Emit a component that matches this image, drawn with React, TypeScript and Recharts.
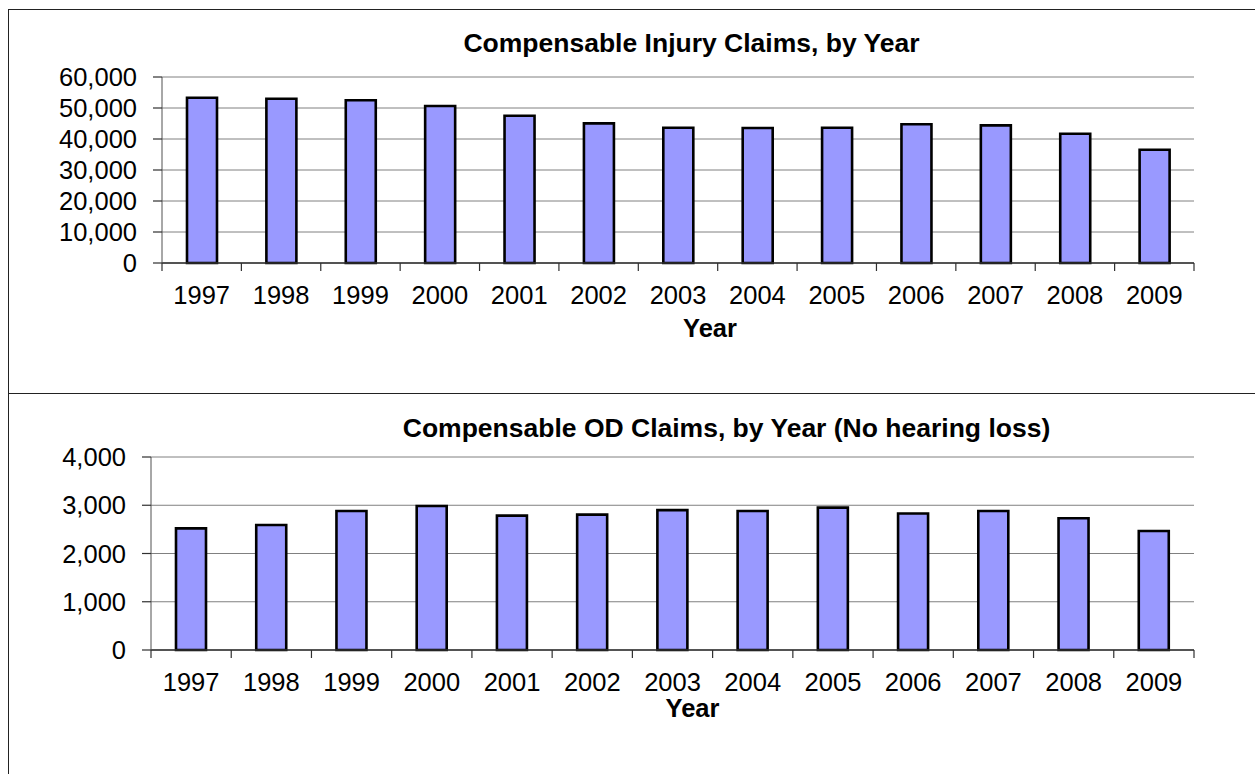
import React from "react";
import { BarChart, Bar, XAxis, YAxis, CartesianGrid } from "recharts";

const years = ["1997", "1998", "1999", "2000", "2001", "2002", "2003", "2004", "2005", "2006", "2007", "2008", "2009"];
const injuryClaims = [53300, 53000, 52500, 50650, 47500, 45050, 43650, 43550, 43650, 44750, 44400, 41700, 36550];
const odClaims = [2520, 2590, 2880, 2985, 2785, 2805, 2900, 2880, 2950, 2830, 2880, 2730, 2465];
const injuryTicks = [0, 10000, 20000, 30000, 40000, 50000, 60000];
const odTicks = [0, 1000, 2000, 3000, 4000];

const injuryData = years.map((y, i) => ({ year: y, value: injuryClaims[i] }));
const odData = years.map((y, i) => ({ year: y, value: odClaims[i] }));

const FONT = "'Liberation Sans', Arial, sans-serif";
const tickStyle = { fontFamily: FONT, fontSize: 25.5, fill: "#000" };
const fmt = (v: number) => v.toLocaleString("en-US");

const X_TICK_SIZE = 8;
const X_TICK_MARGIN = 15;

function CategoryTick(props: any) {
  const { x, y, payload, index } = props;
  const off = payload && typeof payload.offset === "number" ? payload.offset : 0;
  const axisY = y - X_TICK_SIZE - X_TICK_MARGIN;
  const last = index === years.length - 1;
  return (
    <g>
      <line x1={x - off} x2={x - off} y1={axisY} y2={axisY + X_TICK_SIZE} stroke="#303030" strokeWidth={1.2} />
      {last && (
        <line x1={x + off} x2={x + off} y1={axisY} y2={axisY + X_TICK_SIZE} stroke="#303030" strokeWidth={1.2} />
      )}
      <text x={x} y={y} dy="0.71em" textAnchor="middle" fontFamily={FONT} fontSize={25.5} fill="#000">
        {payload.value}
      </text>
    </g>
  );
}

function Panel(props: {
  data: { year: string; value: number }[];
  ticks: number[];
  height: number;
  yWidth: number;
  top: number;
  bottom: number;
  right: number;
}) {
  const { data, ticks, height, yWidth, top, bottom, right } = props;
  return (
    <BarChart
      width={1240}
      height={height}
      data={data}
      margin={{ top, right, bottom, left: 0 }}
    >
      <CartesianGrid vertical={false} stroke="#808080" strokeWidth={1} />
      <XAxis
        dataKey="year"
        height={1}
        interval={0}
        axisLine={{ stroke: "#303030", strokeWidth: 1.5 }}
        tickLine={false}
        tickSize={X_TICK_SIZE}
        tickMargin={X_TICK_MARGIN}
        tick={<CategoryTick />}
      />
      <YAxis
        width={yWidth}
        domain={[0, ticks[ticks.length - 1]]}
        ticks={ticks}
        interval={0}
        tickFormatter={fmt}
        tickSize={9}
        tickMargin={16}
        tick={tickStyle}
        axisLine={{ stroke: "#505050", strokeWidth: 1 }}
        tickLine={{ stroke: "#303030", strokeWidth: 1.2 }}
      />
      <Bar
        dataKey="value"
        fill="#9999FF"
        stroke="#000"
        strokeWidth={2.6}
        barSize={30}
        isAnimationActive={false}
      />
    </BarChart>
  );
}

const titleStyle: React.CSSProperties = {
  position: "absolute",
  width: 900,
  textAlign: "center",
  fontFamily: FONT,
  fontWeight: "bold",
  fontSize: 26.5,
  lineHeight: "30px",
  color: "#000",
  whiteSpace: "nowrap",
};

const yearStyle: React.CSSProperties = {
  position: "absolute",
  width: 200,
  textAlign: "center",
  fontFamily: FONT,
  fontWeight: "bold",
  fontSize: 25.5,
  lineHeight: "30px",
  color: "#000",
};

export default function App() {
  return (
    <div
      style={{
        position: "fixed",
        left: 8,
        top: 9,
        width: 1247,
        height: 765,
        overflow: "hidden",
        background: "#fff",
      }}
    >
      <div
        style={{
          position: "absolute",
          left: 0,
          top: 0,
          width: 1300,
          height: 384,
          borderTop: "1.5px solid #222",
          borderLeft: "1.5px solid #222",
          boxSizing: "border-box",
        }}
      />
      <div
        style={{
          position: "absolute",
          left: 0,
          top: 384,
          width: 1300,
          height: 500,
          borderTop: "1.5px solid #222",
          borderLeft: "1.5px solid #222",
          boxSizing: "border-box",
        }}
      />
      <div style={{ position: "absolute", left: 0, top: 0 }}>
        <Panel data={injuryData} ticks={injuryTicks} height={384} yWidth={154} top={68} bottom={129} right={54} />
      </div>
      <div style={{ position: "absolute", left: 0, top: 384 }}>
        <Panel data={odData} ticks={odTicks} height={381} yWidth={143} top={64} bottom={123} right={54} />
      </div>
      <div style={{ ...titleStyle, left: 683.5 - 450, top: 19.3 }}>Compensable Injury Claims, by Year</div>
      <div style={{ ...titleStyle, left: 718.5 - 450, top: 404.3 }}>
        Compensable OD Claims, by Year (No hearing loss)
      </div>
      <div style={{ ...yearStyle, left: 702 - 100, top: 303.5 }}>Year</div>
      <div style={{ ...yearStyle, left: 684.5 - 100, top: 683.5 }}>Year</div>
    </div>
  );
}
